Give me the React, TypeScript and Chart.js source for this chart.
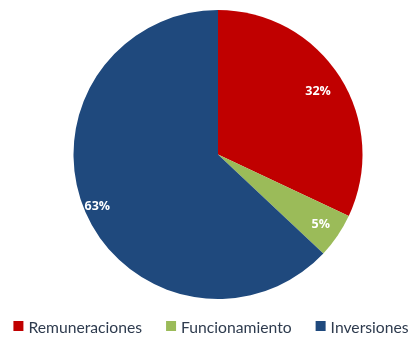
import React, { useEffect, useRef } from "react";
import { Chart, registerables } from "chart.js";

Chart.register(...registerables);

const categories = ["Remuneraciones", "Funcionamiento", "Inversiones"];
const values = [32, 5, 63];
const colors = ["#C00000", "#9BBB59", "#1F497D"];
const labelRadii = [0.82, 0.86, 0.91];

const labelPlugin = {
  id: "sliceLabels",
  afterDatasetsDraw(chart: any) {
    const { ctx } = chart;
    const meta = chart.getDatasetMeta(0);
    ctx.save();
    ctx.font = "bold 12.5px 'Open Sans', sans-serif";
    ctx.fillStyle = "#ffffff";
    ctx.textAlign = "center";
    ctx.textBaseline = "middle";
    meta.data.forEach((arc: any, i: number) => {
      const { x, y, startAngle, endAngle, outerRadius } = arc.getProps(
        ["x", "y", "startAngle", "endAngle", "outerRadius"],
        true
      );
      const mid = (startAngle + endAngle) / 2;
      const r = outerRadius * labelRadii[i];
      ctx.fillText(values[i] + "%", x + Math.cos(mid) * r, y + Math.sin(mid) * r);
    });
    ctx.restore();
  },
};

const legendPlugin = {
  id: "bottomLegend",
  afterDraw(chart: any) {
    const { ctx } = chart;
    const labels: string[] = chart.data.labels;
    const bg: string[] = chart.data.datasets[0].backgroundColor;
    ctx.save();
    ctx.font = "15.7px Lato, sans-serif";
    ctx.textBaseline = "middle";
    ctx.textAlign = "left";
    const box = 10;
    const boxGap = 5;
    const itemGap = 24;
    const widths = labels.map((l) => ctx.measureText(l).width);
    const total =
      widths.reduce((a, w) => a + box + boxGap + w, 0) + itemGap * (labels.length - 1);
    let x = 211 - total / 2;
    const y = 328;
    labels.forEach((l, i) => {
      ctx.fillStyle = bg[i];
      ctx.fillRect(x, y - box / 2 - 2, box, box);
      x += box + boxGap;
      ctx.fillStyle = "#2E3B4E";
      ctx.fillText(l, x, y);
      x += widths[i] + itemGap;
    });
    ctx.restore();
  },
};

export default function App() {
  const ref = useRef<HTMLCanvasElement>(null);
  useEffect(() => {
    const chart = new Chart(ref.current!, {
      type: "pie",
      data: {
        labels: categories,
        datasets: [
          {
            data: values,
            backgroundColor: colors,
            borderWidth: 0,
          },
        ],
      },
      options: {
        animation: false,
        responsive: false,
        devicePixelRatio: 1,
        layout: { padding: { top: 10, left: 22, right: 0, bottom: 40 } },
        plugins: {
          tooltip: { enabled: false },
          legend: { display: false },
        },
      },
      plugins: [labelPlugin, legendPlugin],
    });
    return () => chart.destroy();
  }, []);
  return (
    <div style={{ position: "absolute", left: 0, top: 0, width: 414, height: 339, background: "#fff" }}>
      <canvas ref={ref} width={414} height={339} />
    </div>
  );
}
